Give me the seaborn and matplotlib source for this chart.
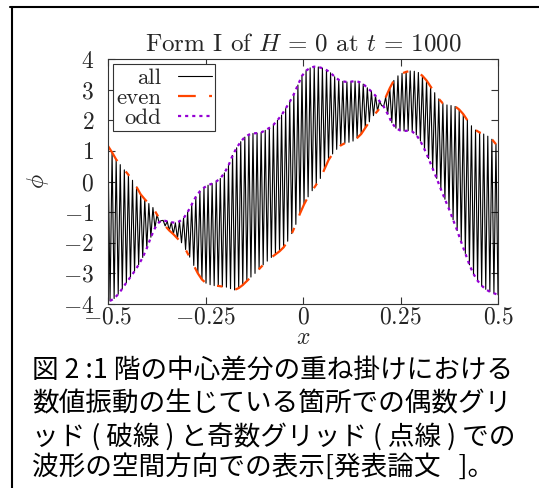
import numpy as np
import matplotlib
matplotlib.use("Agg")
import matplotlib.pyplot as plt
import seaborn as sns
from matplotlib.lines import Line2D

# ---------------- data ----------------
N_GRID = 192  # grid points across x in [-0.5, 0.5]; even = indices 0,2,4..., odd = 1,3,5...

even_phi = [
    1.16, 0.95, 0.72, 0.55, 0.38, 0.22, 0.04, -0.18, -0.42, -0.58,
    -0.72, -0.85, -1.08, -1.28, -1.45, -1.60, -1.72, -1.86, -2.00, -2.22,
    -2.47, -2.74, -3.00, -3.20, -3.32, -3.37, -3.40, -3.41, -3.43, -3.45,
    -3.50, -3.54, -3.48, -3.38, -3.25, -3.12, -3.00, -2.86, -2.72, -2.60,
    -2.48, -2.38, -2.28, -2.15, -1.95, -1.70, -1.40, -1.05, -0.75, -0.50,
    -0.30, -0.10, 0.10, 0.40, 0.70, 0.90, 1.05, 1.18, 1.25, 1.28,
    1.32, 1.42, 1.55, 1.75, 1.95, 2.15, 2.30, 2.48, 2.75, 3.05,
    3.30, 3.45, 3.53, 3.58, 3.61, 3.60, 3.56, 3.45, 3.30, 3.10,
    2.90, 2.70, 2.55, 2.50, 2.48, 2.45, 2.35, 2.20, 2.00, 1.82,
    1.68, 1.60, 1.55, 1.48, 1.38, 1.22,
]

odd_phi = [
    -3.90, -3.82, -3.68, -3.50, -3.30, -3.12, -2.93, -2.72, -2.48, -2.18,
    -1.82, -1.52, -1.33, -1.27, -1.30, -1.33, -1.35, -1.30, -1.20, -1.00,
    -0.75, -0.50, -0.32, -0.20, -0.12, -0.07, 0.00, 0.10, 0.28, 0.52,
    0.85, 1.10, 1.30, 1.45, 1.53, 1.57, 1.58, 1.60, 1.67, 1.75,
    1.85, 2.00, 2.17, 2.38, 2.60, 2.85, 3.15, 3.45, 3.62, 3.71,
    3.75, 3.74, 3.70, 3.64, 3.55, 3.42, 3.32, 3.27, 3.25, 3.26,
    3.28, 3.25, 3.18, 3.06, 2.94, 2.80, 2.62, 2.45, 2.20, 1.92,
    1.74, 1.67, 1.65, 1.66, 1.63, 1.52, 1.32, 1.05, 0.75, 0.42,
    0.10, -0.25, -0.58, -0.90, -1.25, -1.60, -1.98, -2.35, -2.72, -3.02,
    -3.24, -3.40, -3.52, -3.60, -3.65, -3.70,
]

series_labels = ["all", "even", "odd"]
xtick_values = [-0.5, -0.25, 0, 0.25, 0.5]
xtick_labels = ["$-0.5$", "$-0.25$", "$0$", "$0.25$", "$0.5$"]
ytick_values = [-4, -3, -2, -1, 0, 1, 2, 3, 4]
ytick_labels = ["$-4$", "$-3$", "$-2$", "$-1$", "$0$", "$1$", "$2$", "$3$", "$4$"]
title_text = r"Form I of $H\,=\,0$ at $t\,=\,1000$"
caption_lines = [
    "図 2 :1 階の中心差分の重ね掛けにおける",
    "数値振動の生じている箇所での偶数グリ",
    "ッド ( 破線 ) と奇数グリッド ( 点線 ) での",
    "波形の空間方向での表示[発表論文   ]。",
]

# ---------------- style ----------------
sns.set_theme(style="ticks")
plt.rcParams.update({
    "font.family": ["cmr10", "DejaVu Sans"],
    "mathtext.fontset": "cm",
    "axes.formatter.use_mathtext": True,
    "xtick.direction": "in",
    "ytick.direction": "in",
    "xtick.top": True,
    "ytick.right": True,
    "axes.unicode_minus": True,
})

x_grid = np.linspace(-0.5, 0.5, N_GRID)
x_even = x_grid[0::2]
x_odd = x_grid[1::2]
phi_all = np.empty(N_GRID)
phi_all[0::2] = even_phi
phi_all[1::2] = odd_phi

W, H = 539, 488
fig = plt.figure(figsize=(W / 100, H / 100), dpi=100)
fig.patch.set_facecolor("white")
ax = fig.add_axes([108 / W, 1 - 304 / H, 390 / W, 245 / H])

sns.lineplot(x=x_grid, y=phi_all, ax=ax, color="black", linewidth=0.8,
             label=series_labels[0], estimator=None, sort=False)
sns.lineplot(x=x_even, y=even_phi, ax=ax, color="#FF4500", linewidth=1.6,
             label=series_labels[1], estimator=None, sort=False)
ax.lines[-1].set_dashes((8, 6, 2.5, 6))
sns.lineplot(x=x_odd, y=odd_phi, ax=ax, color="#9400D3", linewidth=1.6,
             label=series_labels[2], estimator=None, sort=False)
ax.lines[-1].set_dashes((1.4, 1.8))

ax.set_xlim(-0.5, 0.5)
ax.set_ylim(-4, 4)
ax.set_xticks(xtick_values)
ax.set_xticklabels(xtick_labels)
ax.set_yticks(ytick_values)
ax.set_yticklabels(ytick_labels)
ax.tick_params(axis="both", length=5, width=0.8, color="#333333", labelsize=17)
ax.tick_params(axis="x", pad=2)
ax.tick_params(axis="y", pad=10)
for sp in ax.spines.values():
    sp.set_linewidth(0.8)
    sp.set_color("#333333")

ax.set_title(title_text, fontsize=18, pad=6)
ax.set_xlabel("$x$", fontsize=17)
ax.set_ylabel(r"$\phi$", fontsize=17)
ax.xaxis.set_label_coords(0.5, -0.093)
ax.yaxis.set_label_coords(-0.145, 0.5)

handles = ax.get_lines()[:3]
leg = ax.legend(handles, series_labels, loc="upper left", markerfirst=False,
                frameon=True, fancybox=False, framealpha=1, edgecolor="#333333",
                fontsize=16.5, labelspacing=0.0, handlelength=1.5,
                handletextpad=0.7, borderpad=0.15, borderaxespad=0.22)
leg.get_frame().set_linewidth(0.8)

# caption
caption_y = [371, 404, 437, 467]
for line, yy in zip(caption_lines, caption_y):
    fig.text(32 / W, 1 - yy / H, line, fontsize=19.2, va="center", ha="left",
             family=["Noto Sans CJK JP", "DejaVu Sans"], color="black")

# frame lines of the screenshot (top and left)
fig.add_artist(Line2D([10 / W, 1], [1 - 6.7 / H, 1 - 6.7 / H], transform=fig.transFigure,
                      color="black", linewidth=1.5))
fig.add_artist(Line2D([11.5 / W, 11.5 / W], [0, 1 - 6.7 / H], transform=fig.transFigure,
                      color="black", linewidth=1.5))

fig.savefig("out.png", dpi=100)
